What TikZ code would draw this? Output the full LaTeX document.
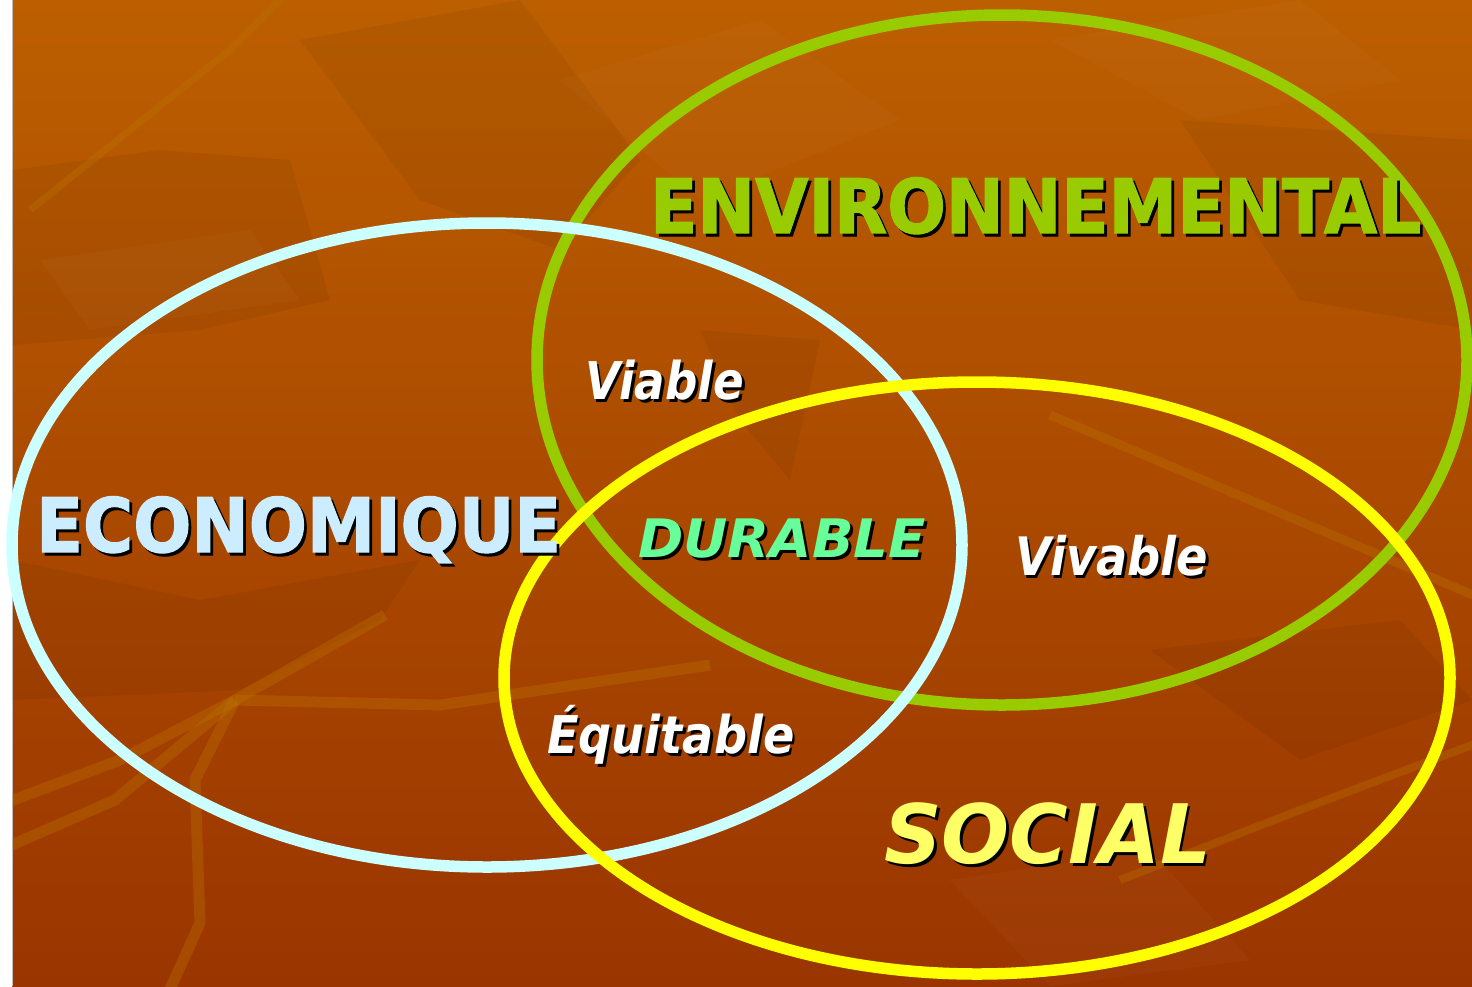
\documentclass[tikz,border=0pt]{standalone}
\usepackage{fontspec}
\setmainfont{DejaVu Sans}[BoldFeatures={FakeBold=1.6}]
\definecolor{bgtop}{HTML}{BC5F00}
\definecolor{bgbot}{HTML}{9A3500}
\definecolor{streak}{HTML}{BB7300}
\definecolor{ecoring}{HTML}{CCFFFF}
\definecolor{ecotext}{HTML}{CCECFF}
\definecolor{envgreen}{HTML}{99CC00}
\definecolor{socring}{HTML}{FFFF00}
\definecolor{soctext}{HTML}{FFFF66}
\definecolor{durtext}{HTML}{66FF99}
\tikzset{
  ring/.style={line width=11.5pt},
  lbl/.style={inner sep=0pt, anchor=base west, font=\bfseries},
  branch/.style={streak, opacity=0.35, line width=11pt, line join=round},
  leafdark/.style={fill=black, opacity=0.05, draw=none},
  leaflight/.style={fill=white, opacity=0.025, draw=none}
}
% text with a black drop shadow, in one box
\newcommand{\shtxt}[2]{\makebox[0pt][l]{\hspace{3pt}\raisebox{-3pt}{\color{black}#2}}\textcolor{#1}{#2}}
% name, position, colour, font size, xscale, text
\newcommand{\shlabel}[6]{%
  \node[lbl] (#1) at (#2) {\fontsize{#4}{#4}\selectfont\scalebox{#5}[1]{\shtxt{#3}{#6}}};
}
\begin{document}
\begin{tikzpicture}[x=1pt,y=-1pt]
\useasboundingbox (0,0) rectangle (1472,986);
\fill[white] (0,0) rectangle (1472,986);
\shade[top color=bgtop, bottom color=bgbot] (12,0) rectangle (1472,986);
\draw[gray!50, line width=1pt] (12,0) -- (12,986);
\begin{scope}
\clip (12.5,0) rectangle (1472,986);
% background leaves
\fill[leafdark] (12,170) -- (160,150) -- (290,160) -- (330,300) -- (200,330) -- (12,345) -- cycle;
\fill[leafdark] (300,40) -- (520,0) -- (640,160) -- (560,250) -- (420,200) -- cycle;
\fill[leafdark] (1180,120) -- (1472,140) -- (1472,330) -- (1300,300) -- cycle;
\fill[leafdark] (700,330) -- (820,340) -- (790,480) -- (740,420) -- cycle;
\fill[leafdark] (12,560) -- (200,600) -- (420,560) -- (380,620) -- (240,690) -- (12,700) -- cycle;
\fill[leafdark] (1150,650) -- (1400,620) -- (1472,700) -- (1300,760) -- cycle;
\fill[leaflight] (560,80) -- (760,20) -- (900,120) -- (700,200) -- cycle;
\fill[leaflight] (1050,40) -- (1300,0) -- (1400,80) -- (1200,120) -- cycle;
\fill[leaflight] (40,260) -- (250,230) -- (300,300) -- (90,330) -- cycle;
\fill[leaflight] (950,880) -- (1150,850) -- (1250,960) -- (1050,986) -- cycle;
% streaks
\draw[branch, line width=7pt] (285,-5) -- (230,50) -- (30,210);
\draw[branch] (0,850) -- (115,800) -- (235,700) -- (385,615);
\draw[branch] (0,805) -- (120,760) -- (235,700);
\draw[branch] (235,700) -- (440,705) -- (710,665);
\draw[branch] (235,700) -- (195,780) -- (200,923) -- (165,1000);
\draw[branch, line width=9pt] (1050,415) -- (1250,500) -- (1480,598);
\draw[branch, line width=8pt] (1120,880) -- (1300,810) -- (1480,742);
\end{scope}
% rings
\draw[ring, envgreen] (1002,360) ellipse [x radius=465pt, y radius=345pt];
\draw[ring, ecoring] (487,545) ellipse [x radius=475pt, y radius=322pt];
\draw[ring, socring] (977,678) ellipse [x radius=473pt, y radius=296pt];
% labels
\shlabel{env}{650,233}{envgreen}{75pt}{0.92}{ENVIRONNEMENTAL}
\shlabel{eco}{36,552}{ecotext}{75pt}{0.913}{ECONOMIQUE}
\shlabel{via}{585,399}{white}{52pt}{0.87}{\itshape Viable}
\shlabel{dur}{638,557}{durtext}{53pt}{1.03}{\itshape DURABLE}
\shlabel{viv}{1015,575}{white}{53pt}{0.875}{\itshape Vivable}
\shlabel{equ}{547,753}{white}{52pt}{0.89}{\itshape Équitable}
\shlabel{soc}{884,863}{soctext}{82pt}{0.975}{\itshape SOCIAL}
\end{tikzpicture}
\end{document}
